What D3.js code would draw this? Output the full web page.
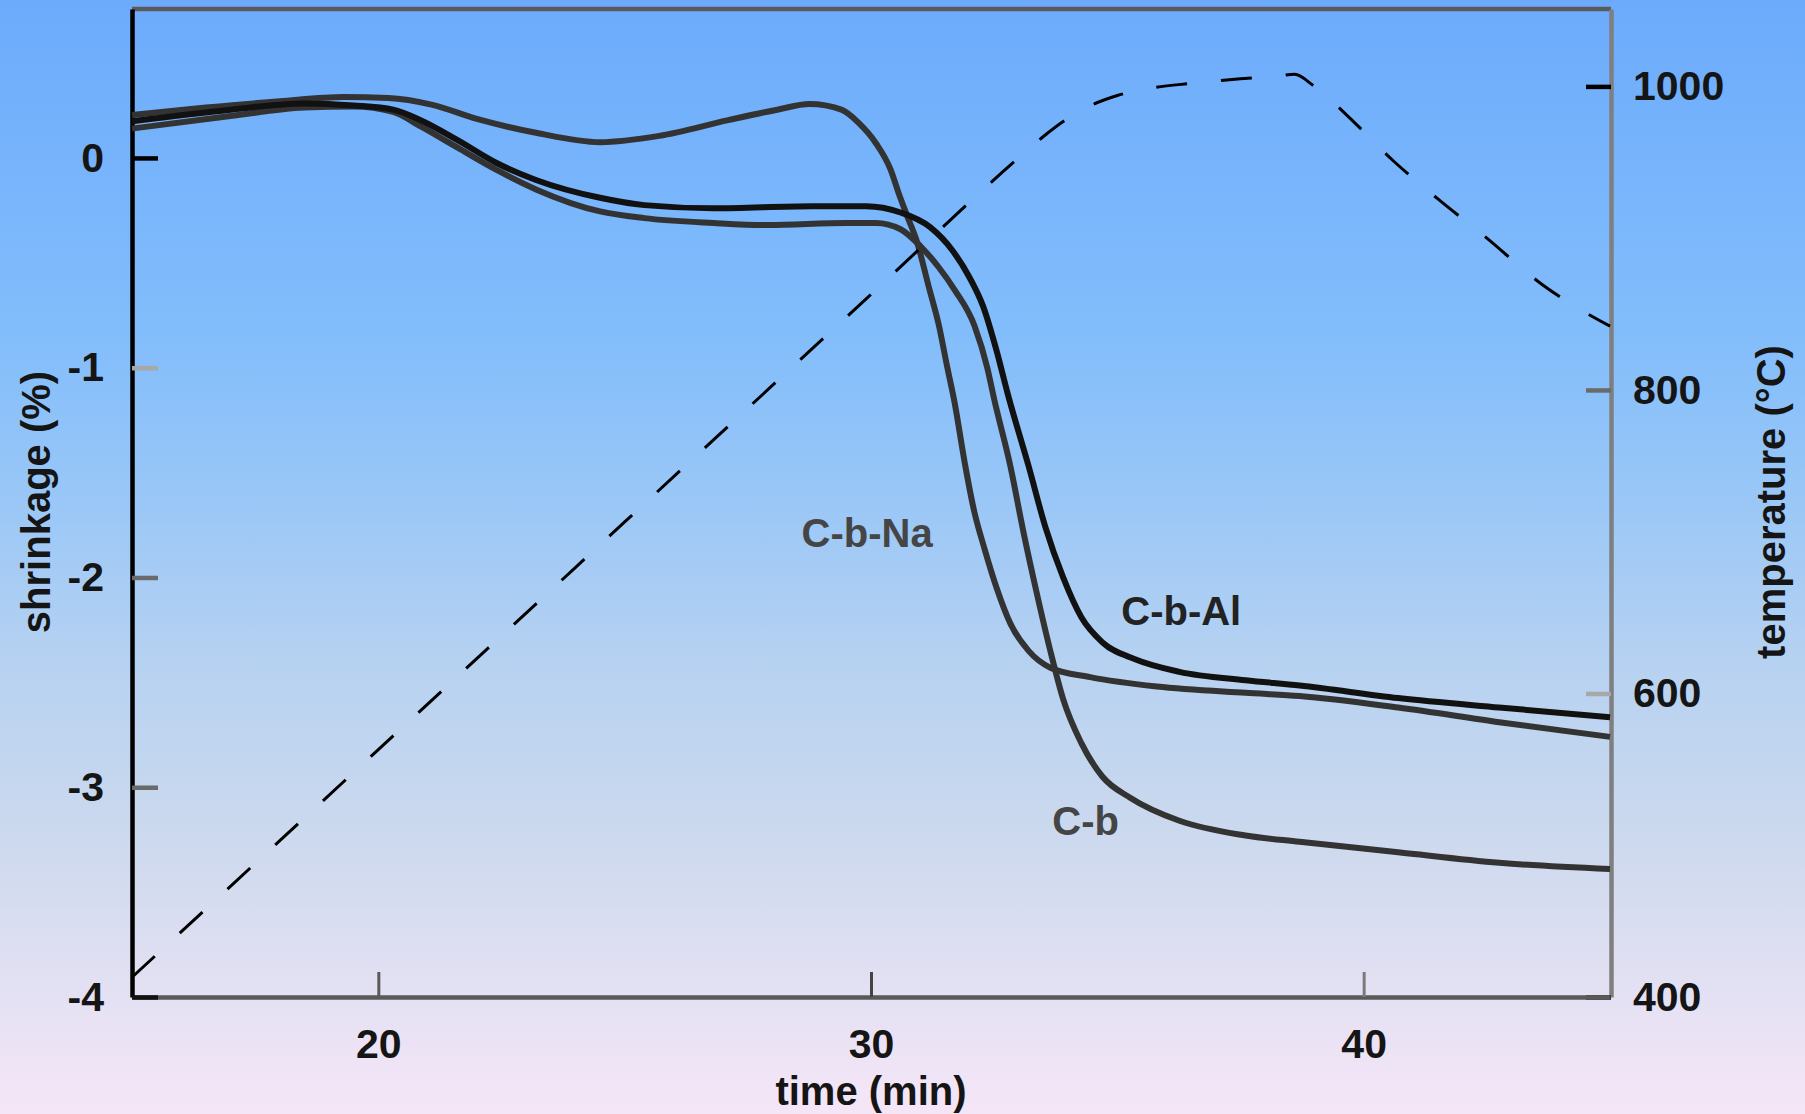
<!DOCTYPE html>
<html>
<head>
<meta charset="utf-8">
<script src="https://cdn.jsdelivr.net/npm/d3@7"></script>
<style>
  html, body { margin: 0; padding: 0; background: #fff; }
  svg { display: block; }
  text { font-family: "Liberation Sans", Arial, Helvetica, sans-serif; }
</style>
</head>
<body>
<svg id="chart" width="1805" height="1114"></svg>
<script>
// ---- data (time in min, shrinkage in %, temperature in °C) ----
const xTicks = [20, 30, 40];
const yLeftTicks = [0, -1, -2, -3, -4];
const yRightTicks = [400, 600, 800, 1000];

const seriesNames = ["C-b-Na", "C-b-Al", "C-b"];

const cbNa = [
  [15, 0.205], [16.5, 0.24], [18, 0.27], [19.3, 0.29], [20.2, 0.286], [21.1, 0.253],
  [22.0, 0.186], [23.2, 0.12], [24.5, 0.075], [25.7, 0.105], [27.1, 0.18], [28.1, 0.23],
  [28.75, 0.257], [29.4, 0.23], [29.75, 0.167], [30.1, 0.07], [30.4, -0.057], [30.56, -0.167],
  [30.74, -0.28], [30.92, -0.39], [31.19, -0.63], [31.37, -0.79], [31.55, -1.0], [31.7, -1.17],
  [31.9, -1.45], [32.1, -1.69], [32.3, -1.86], [32.55, -2.05], [32.83, -2.22], [33.2, -2.35],
  [33.64, -2.43], [34.45, -2.475], [35.8, -2.52], [37.6, -2.55], [38.7, -2.565], [40.7, -2.62],
  [42.75, -2.69], [45, -2.76]
];

const cbAl = [
  [15, 0.175], [17, 0.23], [18.5, 0.26], [19.5, 0.25], [20.3, 0.23], [20.86, 0.18],
  [21.6, 0.086], [22.4, -0.024], [23.2, -0.105], [24.5, -0.19], [25.4, -0.225], [26.8, -0.24],
  [28.8, -0.23], [29.9, -0.23], [30.6, -0.26], [31.2, -0.33], [31.65, -0.44], [32.0, -0.57],
  [32.28, -0.71], [32.55, -0.92], [32.77, -1.12], [33.2, -1.47], [33.54, -1.76], [33.9, -2.0],
  [34.27, -2.19], [34.7, -2.31], [35.36, -2.39], [36.26, -2.45], [37.6, -2.49], [38.7, -2.515],
  [40.7, -2.575], [42.75, -2.62], [45, -2.666]
];

const cb = [
  [15, 0.14], [17, 0.2], [18.5, 0.24], [19.5, 0.245], [20.3, 0.22], [20.86, 0.15],
  [21.6, 0.05], [22.4, -0.057], [23.2, -0.15], [24.5, -0.255], [25.4, -0.287], [26.8, -0.31],
  [27.9, -0.32], [29.5, -0.31], [30.1, -0.31], [30.6, -0.34], [31.0, -0.42], [31.37, -0.52],
  [31.7, -0.63], [32.1, -0.8], [32.36, -1.0], [32.5, -1.15], [32.83, -1.47], [33.1, -1.79],
  [33.36, -2.07], [33.64, -2.35], [33.9, -2.58], [34.27, -2.79], [34.7, -2.95], [35.26, -3.05],
  [36.26, -3.16], [37.6, -3.23], [38.7, -3.26], [40.7, -3.31], [42.75, -3.36], [45, -3.39]
];

const temperature = [
  [15, 413], [20, 563], [25, 713], [30, 863], [33, 953], [33.5, 967], [34.0, 979],
  [34.5, 988], [35.0, 994], [35.7, 999], [36.5, 1002], [37.5, 1005], [38.3, 1007],
  [38.6, 1008], [38.96, 1001], [39.4, 989], [39.85, 975], [40.6, 951], [41.5, 926],
  [42.5, 900], [43.6, 870], [44.5, 851], [45, 842]
];

// label anchor positions in data space (time, shrinkage)
const labelPos = { "C-b-Na": [28.59, -1.855], "C-b-Al": [35.08, -2.227], "C-b": [33.68, -3.228] };

// ---- styles ----
const lineStyle = {
  "C-b-Na": { color: "#333333", width: 6 },
  "C-b-Al": { color: "#111111", width: 6 },
  "C-b":    { color: "#333333", width: 6 }
};
const labelColor = { "C-b-Na": "#454545", "C-b-Al": "#222222", "C-b": "#454545" };
const leftTickColor = { "0": "#000000", "-1": "#a8a8a8", "-2": "#6a6a6a", "-3": "#6a6a6a", "-4": "#111111" };
const rightTickColor = { "1000": "#000000", "800": "#6a6a6a", "600": "#a8a8a8", "400": "#111111" };
const xTickColor = { "20": "#5a5a5a", "30": "#444444", "40": "#7a7a7a" };

// ---- layout ----
const plot = { left: 132, right: 1611, top: 9, bottom: 997 };
const svg = d3.select("#chart");

// background gradient
const defs = svg.append("defs");
const grad = defs.append("linearGradient").attr("id", "bg").attr("x1", 0).attr("y1", 0).attr("x2", 0).attr("y2", 1);
[[0, "#6cabfc"], [0.3, "#82bdfb"], [0.45, "#9ac7f7"], [0.6, "#b7d2f1"], [0.75, "#ccd9ee"], [0.88, "#e2e0f3"], [1, "#f5e6f7"]]
  .forEach(([o, c]) => grad.append("stop").attr("offset", o).attr("stop-color", c));
svg.append("rect").attr("width", 1805).attr("height", 1114).attr("fill", "url(#bg)");

// scales
const x = d3.scaleLinear().domain([15, 45]).range([plot.left, plot.right - 1]);
const yL = d3.scaleLinear().domain([-4, 0.71]).range([plot.bottom, plot.top]);
const yR = d3.scaleLinear().domain([400, 1051]).range([plot.bottom, plot.top]);

const fontTick = "41px";

// top border
svg.append("line")
  .attr("x1", plot.left).attr("x2", plot.right).attr("y1", plot.top).attr("y2", plot.top)
  .attr("stroke", "#5a5a5a").attr("stroke-width", 4.5);

// right axis
const gR = svg.append("g").attr("transform", `translate(${plot.right},0)`)
  .call(d3.axisRight(yR).tickValues(yRightTicks).tickSizeInner(-25).tickSizeOuter(0).tickPadding(22).tickFormat(d3.format("d")));
gR.select(".domain").attr("stroke", "#7f7f7f").attr("stroke-width", 4.5);
gR.selectAll(".tick line").attr("stroke", d => rightTickColor[String(d)]).attr("stroke-width", 4.5);
gR.selectAll(".tick text").attr("font-size", fontTick).attr("font-weight", "bold").attr("fill", "#151515")
  .attr("font-family", "'Liberation Sans', Arial, sans-serif");

// bottom axis
const gB = svg.append("g").attr("transform", `translate(0,${plot.bottom})`)
  .call(d3.axisBottom(x).tickValues(xTicks).tickSizeInner(-25).tickSizeOuter(0).tickPadding(32).tickFormat(d3.format("d")));
gB.select(".domain").attr("stroke", "#595959").attr("stroke-width", 4.5);
gB.selectAll(".tick line").attr("stroke", d => xTickColor[String(d)]).attr("stroke-width", 3);
gB.selectAll(".tick text").attr("font-size", fontTick).attr("font-weight", "bold").attr("fill", "#151515")
  .attr("font-family", "'Liberation Sans', Arial, sans-serif");

// left axis
const gL = svg.append("g").attr("transform", `translate(${plot.left},0)`)
  .call(d3.axisLeft(yL).tickValues(yLeftTicks).tickSizeInner(-26).tickSizeOuter(0).tickPadding(28).tickFormat(d3.format("d")));
gL.select(".domain").attr("stroke", "#000").attr("stroke-width", 4.5);
gL.selectAll(".tick line").attr("stroke", d => leftTickColor[String(d)]).attr("stroke-width", 4.5);
gL.selectAll(".tick text").attr("font-size", fontTick).attr("font-weight", "bold").attr("fill", "#151515")
  .attr("font-family", "'Liberation Sans', Arial, sans-serif")
  .text(d => d === 0 ? "0" : "-" + Math.abs(d));

// shrinkage curves
const lineL = d3.line().x(d => x(d[0])).y(d => yL(d[1])).curve(d3.curveMonotoneX);
const seriesData = { "C-b-Na": cbNa, "C-b-Al": cbAl, "C-b": cb };
["C-b-Na", "C-b", "C-b-Al"].forEach(name => {
  svg.append("path").datum(seriesData[name])
    .attr("d", lineL)
    .attr("fill", "none")
    .attr("stroke", lineStyle[name].color)
    .attr("stroke-width", lineStyle[name].width)
    .attr("stroke-linejoin", "round");
});

// temperature dashed curve
const lineR = d3.line().x(d => x(d[0])).y(d => yR(d[1])).curve(d3.curveMonotoneX);
svg.append("path").datum(temperature)
  .attr("d", lineR)
  .attr("fill", "none")
  .attr("stroke", "#000")
  .attr("stroke-width", 3)
  .attr("stroke-dasharray", "31 34");

// series labels
seriesNames.forEach(name => {
  svg.append("text")
    .attr("x", x(labelPos[name][0]))
    .attr("y", yL(labelPos[name][1]))
    .attr("font-size", "40px").attr("font-weight", "bold")
    .attr("fill", labelColor[name])
    .text(name);
});

// axis titles
svg.append("text")
  .attr("transform", "translate(50,502) rotate(-90)")
  .attr("text-anchor", "middle")
  .attr("font-size", "40px").attr("font-weight", "bold").attr("fill", "#151515")
  .text("shrinkage (%)");

svg.append("text")
  .attr("transform", "translate(1785,502) rotate(-90)")
  .attr("text-anchor", "middle")
  .attr("font-size", "40px").attr("font-weight", "bold").attr("fill", "#151515")
  .text("temperature (°C)");

svg.append("text")
  .attr("x", x(30)).attr("y", 1105)
  .attr("text-anchor", "middle")
  .attr("font-size", "40px").attr("font-weight", "bold").attr("fill", "#151515")
  .text("time (min)");
</script>
</body>
</html>
